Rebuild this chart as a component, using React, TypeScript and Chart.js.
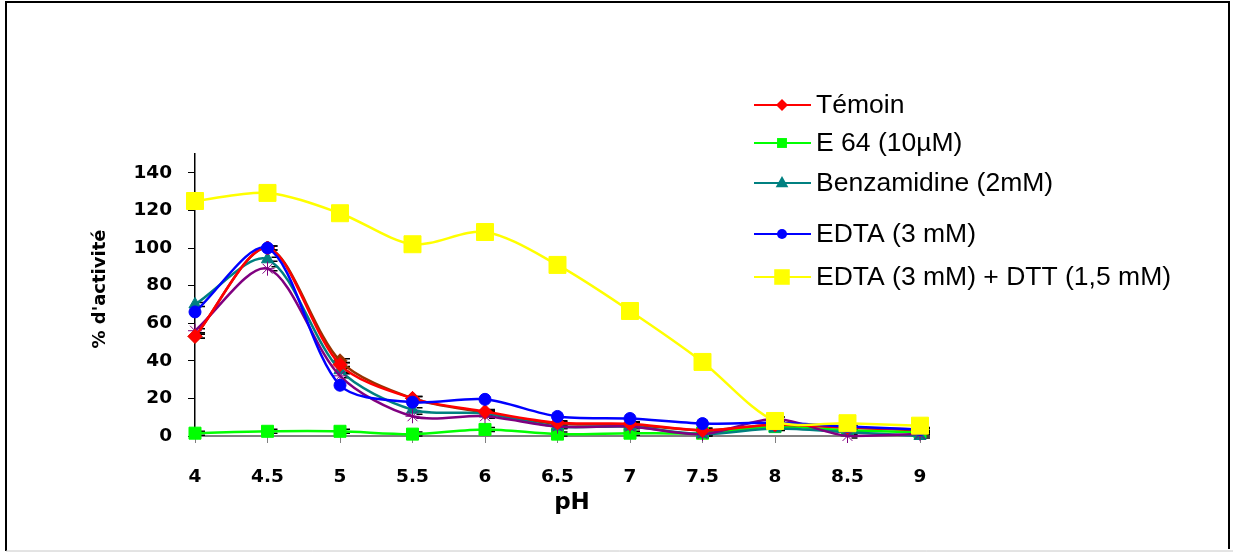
import React, { useEffect, useRef } from "react";
import { Chart, registerables } from "chart.js";

Chart.register(...registerables);

const phLabels = ["4", "4.5", "5", "5.5", "6", "6.5", "7", "7.5", "8", "8.5", "9"];
const yTickValues = [0, 20, 40, 60, 80, 100, 120, 140];

const temoin = [53, 100, 38, 20, 13, 7, 6.5, 3, 6, 4.5, 3.5];
const e64 = [1.5, 2.5, 2.5, 1, 3.5, 1, 1.5, 1.5, 5, 3, 2];
const benzamidine = [70, 94, 35, 14, 12, 5, 5, 1, 4, 2, 0];
const edta = [66, 100, 27, 18, 19.5, 10.4, 9.3, 6.6, 7, 5, 3.5];
const edtaDtt = [125, 129.3, 118.5, 102, 108.5, 91, 66.5, 39.4, 8, 6.8, 5.5];
const hiddenBrown = [53, 100, 40, 20, 12.5, 6.5, 6, 3, 6, 4.5, 3];
const hiddenPurple = [56, 89, 32, 10.5, 10.5, 5, 5, 1, 9, 0, 1];

const legendItems = [
  { label: "Témoin", color: "#FF0000", style: "rectRot", r: 6 },
  { label: "E 64 (10µM)", color: "#00FF00", style: "rect", r: 7 },
  { label: "Benzamidine (2mM)", color: "#008080", style: "triangle", r: 7 },
  { label: "EDTA (3 mM)", color: "#0000FF", style: "circle", r: 5 },
  { label: "EDTA (3 mM) + DTT (1,5 mM)", color: "#FFFF00", style: "rect", r: 11 },
];

function drawMarker(ctx: CanvasRenderingContext2D, style: string, x: number, y: number, r: number, color: string) {
  ctx.save();
  ctx.fillStyle = color;
  ctx.strokeStyle = color;
  ctx.beginPath();
  if (style === "rectRot") {
    ctx.moveTo(x, y - r);
    ctx.lineTo(x + r, y);
    ctx.lineTo(x, y + r);
    ctx.lineTo(x - r, y);
    ctx.closePath();
    ctx.fill();
  } else if (style === "rect") {
    const s = r * Math.SQRT1_2;
    ctx.rect(x - s, y - s, 2 * s, 2 * s);
    ctx.fill();
  } else if (style === "triangle") {
    ctx.moveTo(x, y - r);
    ctx.lineTo(x + r * 0.9, y + r * 0.6);
    ctx.lineTo(x - r * 0.9, y + r * 0.6);
    ctx.closePath();
    ctx.fill();
  } else {
    ctx.arc(x, y, r, 0, Math.PI * 2);
    ctx.fill();
  }
  ctx.restore();
}

const decorPlugin = {
  id: "decor",
  beforeDatasetsDraw(chart: any) {
    const ctx: CanvasRenderingContext2D = chart.ctx;
    chart.data.datasets.forEach((ds: any, i: number) => {
      if (!ds.errTicks) return;
      const meta = chart.getDatasetMeta(i);
      ctx.save();
      ctx.strokeStyle = "#000";
      ctx.lineWidth = 1.5;
      meta.data.forEach((pt: any) => {
        ctx.beginPath();
        ctx.moveTo(pt.x + 4, pt.y - 2);
        ctx.lineTo(pt.x + 10, pt.y - 2);
        ctx.moveTo(pt.x + 4, pt.y + 2);
        ctx.lineTo(pt.x + 10, pt.y + 2);
        ctx.stroke();
      });
      ctx.restore();
    });
  },
  afterDraw(chart: any) {
    const ctx: CanvasRenderingContext2D = chart.ctx;
    ctx.save();
    ctx.strokeStyle = "#000";
    ctx.lineWidth = 2;
    ctx.beginPath();
    ctx.moveTo(6, 551);
    ctx.lineTo(6, 2);
    ctx.lineTo(1229, 2);
    ctx.lineTo(1229, 549);
    ctx.stroke();
    ctx.strokeStyle = "#c8c8c8";
    ctx.lineWidth = 1;
    ctx.beginPath();
    ctx.moveTo(6, 551);
    ctx.lineTo(1233, 551);
    ctx.stroke();

    ctx.fillStyle = "#000";
    ctx.font = "bold 23px 'DejaVu Sans'";
    ctx.textAlign = "center";
    ctx.textBaseline = "alphabetic";
    ctx.fillText("pH", 572, 509);
    ctx.save();
    ctx.translate(100, 289);
    ctx.rotate(-Math.PI / 2);
    ctx.font = "bold 18px 'DejaVu Sans'";
    ctx.textBaseline = "middle";
    ctx.fillText("% d'activité", 0, 0);
    ctx.restore();

    const ys = [105, 143, 183, 234, 277];
    ctx.font = "26.5px 'Liberation Sans'";
    ctx.textAlign = "left";
    ctx.textBaseline = "middle";
    legendItems.forEach((it, i) => {
      const y = ys[i];
      ctx.strokeStyle = it.color;
      ctx.lineWidth = 2;
      ctx.beginPath();
      ctx.moveTo(754, y);
      ctx.lineTo(811, y);
      ctx.stroke();
      drawMarker(ctx, it.style, 782, y, it.r, it.color);
      ctx.fillStyle = "#000";
      ctx.fillText(it.label, 816, y + 1);
    });
    ctx.restore();
  },
};

export default function App() {
  const ref = useRef<HTMLCanvasElement>(null);

  useEffect(() => {
    if (!ref.current) return;
    const mk = (label: string, data: number[], color: string, style: string, radius: number, order: number, errTicks: boolean) => ({
      label,
      data,
      borderColor: color,
      backgroundColor: color,
      pointBackgroundColor: color,
      pointBorderColor: color,
      pointStyle: style,
      pointRadius: radius,
      pointBorderWidth: 1,
      borderWidth: 2.5,
      tension: 0.3,
      clip: false,
      order,
      errTicks,
    });
    const chart = new Chart(ref.current, {
      type: "line",
      data: {
        labels: phLabels,
        datasets: [
          mk("EDTA (3 mM) + DTT (1,5 mM)", edtaDtt, "#FFFF00", "rect", 12, 0, false),
          mk("EDTA (3 mM)", edta, "#0000FF", "circle", 6, 1, false),
          mk("Témoin", temoin, "#FF0000", "rectRot", 7, 2, true),
          mk("", hiddenPurple, "#800080", "star", 7, 3, true),
          mk("Benzamidine (2mM)", benzamidine, "#008080", "triangle", 7, 4, true),
          mk("E 64 (10µM)", e64, "#00FF00", "rect", 8.5, 5, true),
          mk("", hiddenBrown, "#993300", "rectRot", 7, 6, true),
        ] as any,
      },
      options: {
        responsive: false,
        animation: false,
        layout: { padding: { top: 154, right: 313, left: 0, bottom: 0 } },
        plugins: { legend: { display: false }, tooltip: { enabled: false } },
        scales: {
          x: {
            type: "category",
            offset: false,
            afterFit: (s: any) => {
              s.height = 116;
            },
            grid: { drawOnChartArea: false, drawTicks: true, tickLength: 7, color: "#808080", offset: false },
            border: { color: "#808080", width: 2 },
            ticks: {
              color: "#000",
              padding: 23,
              maxRotation: 0,
              autoSkip: false,
              font: { family: "'DejaVu Sans'", size: 18.5, weight: "bold" },
            },
          },
          y: {
            min: 0,
            max: 150,
            afterFit: (s: any) => {
              s.width = 195;
            },
            afterBuildTicks: (s: any) => {
              s.ticks = yTickValues.map((v) => ({ value: v }));
            },
            grid: { drawOnChartArea: false, drawTicks: true, tickLength: 7, color: "#000" },
            border: { color: "#000", width: 1.5 },
            ticks: {
              color: "#000",
              padding: 16,
              font: { family: "'DejaVu Sans'", size: 18.5, weight: "bold" },
            },
          },
        },
      } as any,
      plugins: [decorPlugin],
    });
    return () => chart.destroy();
  }, []);

  return (
    <div style={{ position: "fixed", left: 0, top: 0, width: 1233, height: 552, background: "#fff" }}>
      <canvas ref={ref} width={1233} height={552} />
    </div>
  );
}
